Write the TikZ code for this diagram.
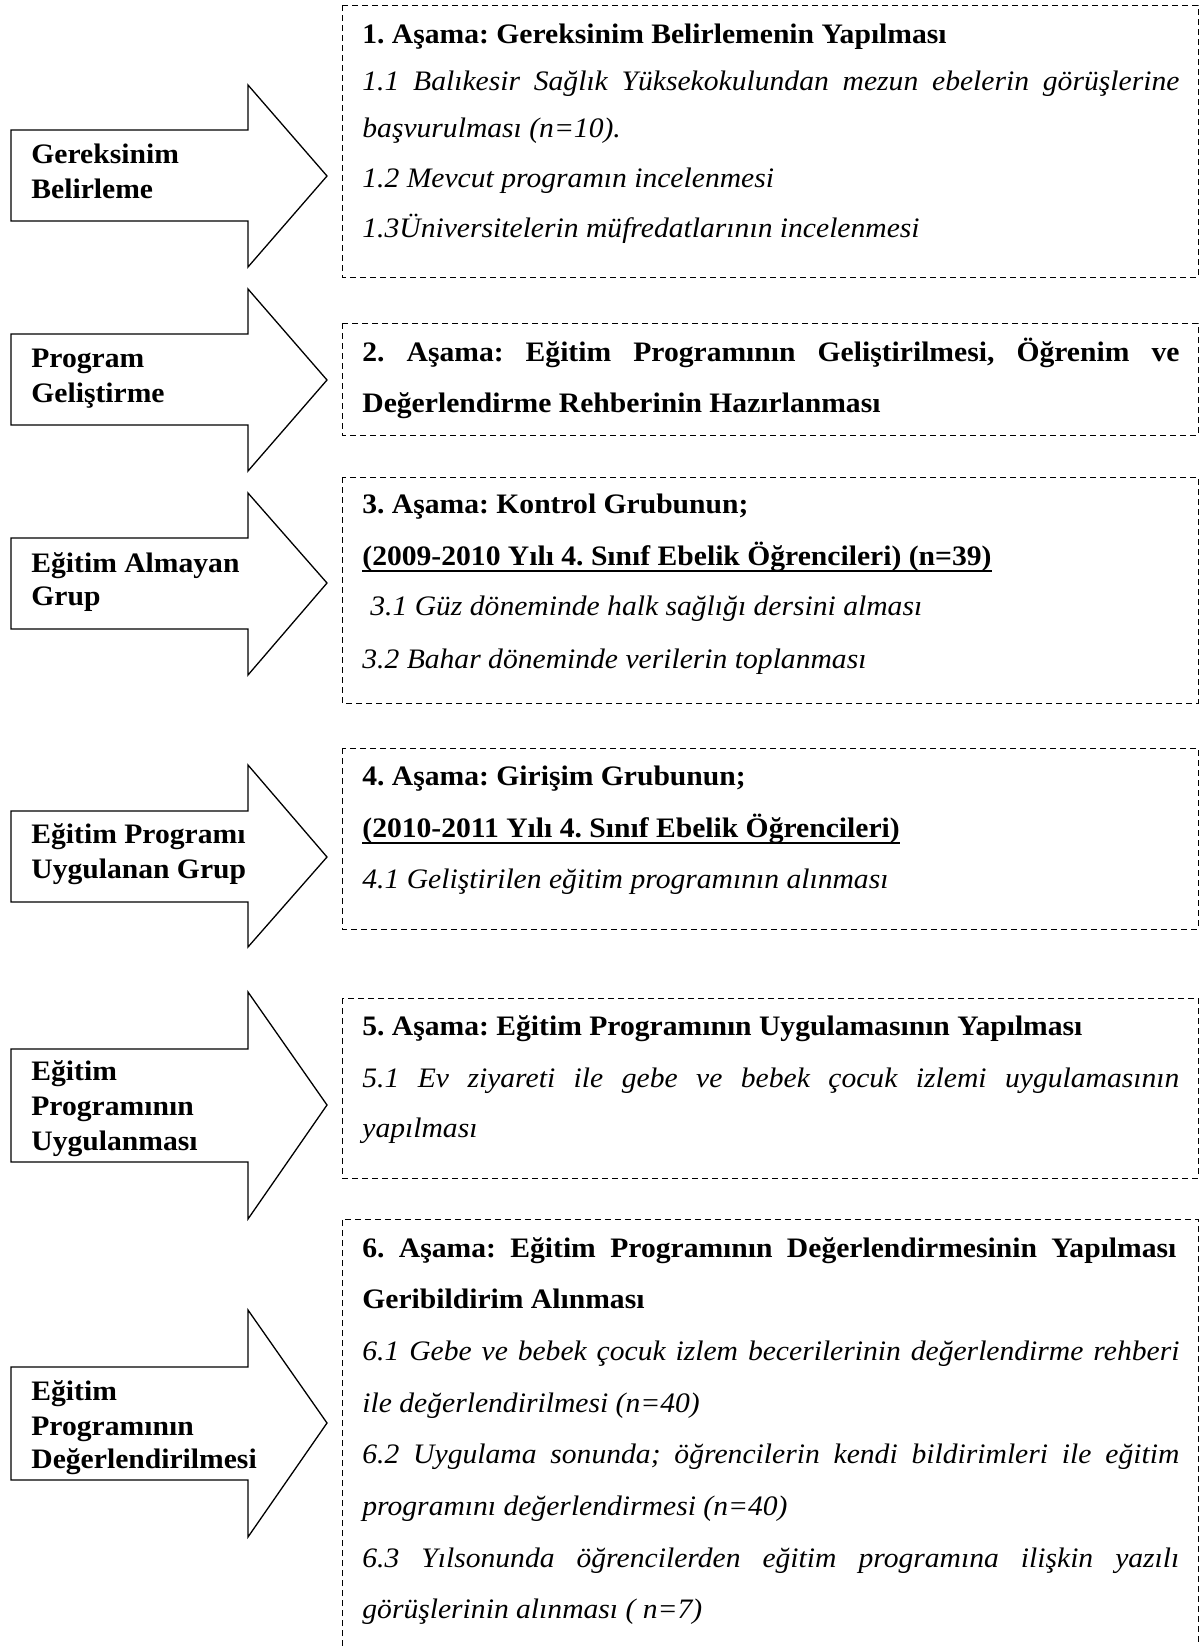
\documentclass[tikz,border=0pt]{standalone}
\usepackage{fontspec}
\setmainfont[FakeStretch=1.05]{Liberation Serif}
\frenchspacing
\newcommand{\jl}[1]{\makebox[408.5pt][s]{#1}}
\begin{document}
\begin{tikzpicture}[x=0.5pt,y=-0.5pt,
  bigarrow/.style={draw=black,line width=0.65pt,line join=miter,fill=white},
  stagebox/.style={draw=black,line width=0.5pt,dash pattern=on 3pt off 2pt},
  lbl/.style={anchor=base west,inner sep=0pt,font=\fontsize{14.1}{16}\selectfont\bfseries},
  bt/.style={anchor=base west,inner sep=0pt,font=\fontsize{14.1}{16}\selectfont\bfseries},
  it/.style={anchor=base west,inner sep=0pt,font=\fontsize{14.1}{16}\selectfont\itshape},
  uline/.style={line width=1.25pt}]
\useasboundingbox[fill=white] (0,0) rectangle (1202,1646);

% ---------- arrows ----------
\draw[bigarrow] (11,130) -- (248,130) -- (248,85) -- (327,176) -- (248,267) -- (248,221) -- (11,221) -- cycle;
\draw[bigarrow] (11,334) -- (248,334) -- (248,289) -- (327,380) -- (248,471) -- (248,425) -- (11,425) -- cycle;
\draw[bigarrow] (11,538) -- (248,538) -- (248,493) -- (327,583) -- (248,675) -- (248,629) -- (11,629) -- cycle;
\draw[bigarrow] (11,811) -- (248,811) -- (248,765) -- (327,857) -- (248,947) -- (248,902) -- (11,902) -- cycle;
\draw[bigarrow] (11,1049) -- (248,1049) -- (248,992) -- (327,1105) -- (248,1219) -- (248,1162) -- (11,1162) -- cycle;
\draw[bigarrow] (11,1367) -- (248,1367) -- (248,1310) -- (327,1423) -- (248,1537) -- (248,1480) -- (11,1480) -- cycle;

% ---------- arrow labels ----------
\node[lbl] (a1a) at (31,163) {Gereksinim};
\node[lbl] (a1b) at (31,198) {Belirleme};
\node[lbl] (a2a) at (31,367) {Program};
\node[lbl] (a2b) at (31,402) {Geliştirme};
\node[lbl] (a3a) at (31,572) {Eğitim Almayan};
\node[lbl] (a3b) at (31,605) {Grup};
\node[lbl] (a4a) at (31,843) {Eğitim Programı};
\node[lbl] (a4b) at (31,878) {Uygulanan Grup};
\node[lbl] (a5a) at (31,1080) {Eğitim};
\node[lbl] (a5b) at (31,1115) {Programının};
\node[lbl] (a5c) at (31,1150) {Uygulanması};
\node[lbl] (a6a) at (31,1400) {Eğitim};
\node[lbl] (a6b) at (31,1435) {Programının};
\node[lbl] (a6c) at (31,1468) {Değerlendirilmesi};

% ---------- dashed boxes ----------
\draw[stagebox] (342,5) rectangle (1198,277);
\draw[stagebox] (342,323) rectangle (1198,435);
\draw[stagebox] (342,477) rectangle (1198,703);
\draw[stagebox] (342,748) rectangle (1198,929);
\draw[stagebox] (342,998) rectangle (1198,1178);
\draw[stagebox] (342,1646) -- (342,1219) -- (1198,1219) -- (1198,1646);

% ---------- box 1 ----------
\node[bt] (b1a) at (362,43) {1. Aşama: Gereksinim Belirlemenin Yapılması};
\node[it] (b1b) at (362,90) {\jl{1.1 Balıkesir Sağlık Yüksekokulundan mezun ebelerin görüşlerine}};
\node[it] (b1c) at (362,137) {başvurulması (n=10).};
\node[it] (b1d) at (362,187) {1.2 Mevcut programın incelenmesi};
\node[it] (b1e) at (362,237) {1.3Üniversitelerin müfredatlarının incelenmesi};

% ---------- box 2 ----------
\node[bt] (b2a) at (362,361) {\jl{2. Aşama: Eğitim Programının Geliştirilmesi, Öğrenim ve}};
\node[bt] (b2b) at (362,412) {Değerlendirme Rehberinin Hazırlanması};

% ---------- box 3 ----------
\node[bt] (b3a) at (362,513) {3. Aşama: Kontrol Grubunun;};
\node[bt] (b3b) at (362,565) {(2009-2010 Yılı 4. Sınıf Ebelik Öğrencileri) (n=39)};
\draw[uline] ([yshift=-3pt]b3b.base west) -- ([yshift=-3pt]b3b.base east);
\node[it] (b3c) at (370,615) {3.1 Güz döneminde halk sağlığı dersini alması};
\node[it] (b3d) at (362,668) {3.2 Bahar döneminde verilerin toplanması};

% ---------- box 4 ----------
\node[bt] (b4a) at (362,785) {4. Aşama: Girişim Grubunun;};
\node[bt] (b4b) at (362,837) {(2010-2011 Yılı 4. Sınıf Ebelik Öğrencileri)};
\draw[uline] ([yshift=-3pt]b4b.base west) -- ([yshift=-3pt]b4b.base east);
\node[it] (b4c) at (362,888) {4.1 Geliştirilen eğitim programının alınması};

% ---------- box 5 ----------
\node[bt] (b5a) at (362,1035) {5. Aşama: Eğitim Programının Uygulamasının Yapılması};
\node[it] (b5b) at (362,1087) {\jl{5.1 Ev ziyareti ile gebe ve bebek çocuk izlemi uygulamasının}};
\node[it] (b5c) at (362,1137) {yapılması};

% ---------- box 6 ----------
\node[bt] (b6a) at (362,1257) {\makebox[407pt][s]{6. Aşama: Eğitim Programının Değerlendirmesinin Yapılması}};
\node[bt] (b6b) at (362,1308) {Geribildirim Alınması};
\node[it] (b6c) at (362,1360) {\jl{6.1 Gebe ve bebek çocuk izlem becerilerinin değerlendirme rehberi}};
\node[it] (b6d) at (362,1412) {ile değerlendirilmesi (n=40)};
\node[it] (b6e) at (362,1463) {\jl{6.2 Uygulama sonunda; öğrencilerin kendi bildirimleri ile eğitim}};
\node[it] (b6f) at (362,1515) {programını değerlendirmesi (n=40)};
\node[it] (b6g) at (362,1567) {\jl{6.3 Yılsonunda öğrencilerden eğitim programına ilişkin yazılı}};
\node[it] (b6h) at (362,1618) {görüşlerinin alınması ( n=7)};
\end{tikzpicture}
\end{document}
